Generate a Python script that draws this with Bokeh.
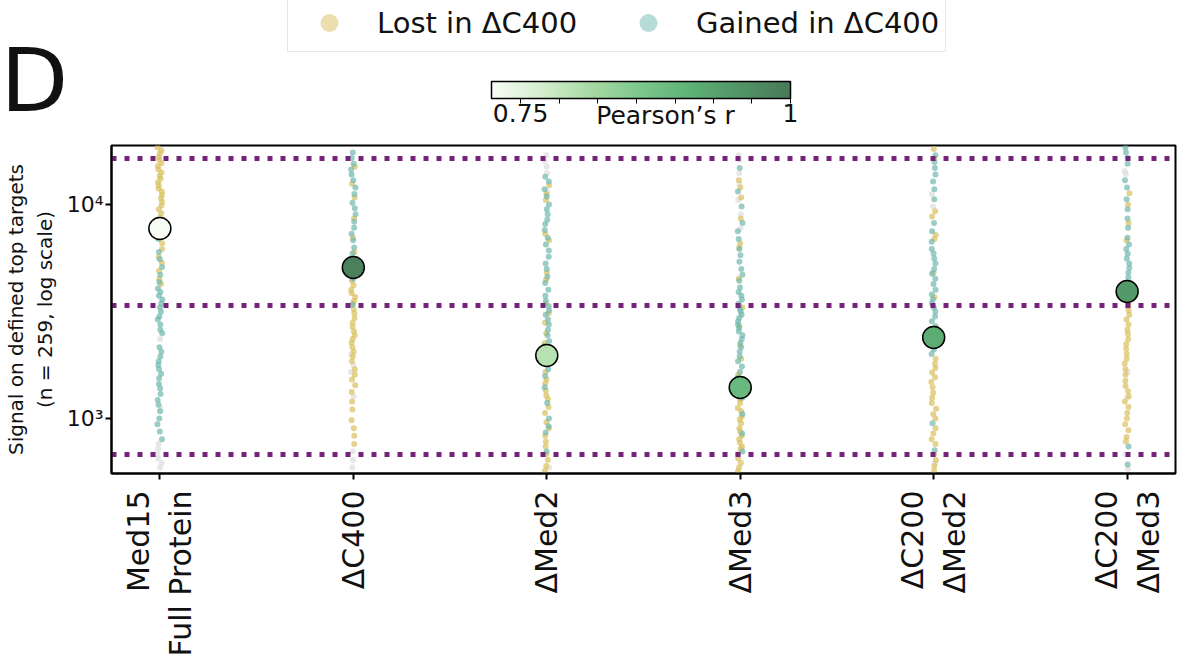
import math
from bokeh.plotting import figure
from bokeh.layouts import column
from bokeh.models import (ColumnDataSource, Range1d, FixedTicker, LinearColorMapper,
                          ColorBar, Legend, LegendItem, Label)
from bokeh.transform import jitter, factor_cmap
from bokeh.embed import file_html
from bokeh.resources import INLINE

# constructs shown on the x axis
categories = ["Med15\nFull Protein", "ΔC400", "ΔMed2", "ΔMed3", "ΔC200\nΔMed2", "ΔC200\nΔMed3"]

# summary signal per construct (big circles) and its Pearson's r vs full protein
mean_signal = [7730, 5080, 1970, 1395, 2390, 3920]
pearson_r = [0.723, 0.99, 0.80, 0.89, 0.915, 0.945]

# dotted reference levels
thresholds = [16400, 3370, 680]

# per-target signal, split by change in ΔC400
lost_c400 = [
    [18500, 17900, 17300, 16700, 16200, 15600, 15100, 14600, 14100, 13600, 13200, 12700,
     12300, 11900, 11500, 11100, 10700, 10300, 9900, 9500, 9100, 8700, 8300, 7100, 6600,
     6200, 5700, 5350, 4900, 4500, 4250],
    [15000, 12500, 10800, 8600, 7000, 6000, 5400, 4400, 4200, 4000, 3850, 3700, 3550, 3450,
     3250, 3100, 2950, 2800, 2680, 2550, 2450, 2350, 2250, 2150, 2050, 1950, 1850, 1700,
     1600, 1520, 1430, 1330, 1200, 1100, 980, 900, 830, 760],
    [12300, 11200, 10500, 7300, 6800, 4800, 4450, 3450, 3100, 2800, 2500, 2250, 2050, 1920,
     1800, 1650, 1520, 1460, 1350, 1280, 1230, 1130, 1060, 960, 900, 830, 780, 740, 680,
     640, 600, 570],
    [13000, 12000, 10800, 8600, 6600, 6300, 4500, 3300, 2700, 2200, 1900, 1600, 1230, 1180,
     1120, 1080, 1020, 990, 950, 900, 870, 830, 800, 770, 740, 720, 680, 650, 620, 590, 565],
    [18200, 16400, 9300, 8800, 7200, 6900, 4800, 3700, 2650, 1900, 1800, 1720, 1640, 1560,
     1480, 1400, 1320, 1250, 1180, 1110, 1050, 1000, 900, 850, 800, 760, 680, 640, 600, 570],
    [11300, 10000, 8200, 6800, 3700, 3500, 3350, 3200, 3050, 2900, 2750, 2600, 2480, 2350,
     2230, 2120, 2000, 1900, 1800, 1700, 1600, 1500, 1420, 1340, 1270, 1200, 1130, 1060,
     1000, 940, 880, 820, 780],
]
gained_c400 = [
    [7400, 6900, 6000, 5550, 5100, 4700, 4350, 4050, 3900, 3750, 3600, 3450, 3300, 3150,
     3000, 2900, 2750, 2600, 2500, 2150, 2050, 1950, 1850, 1780, 1700, 1620, 1540, 1450,
     1380, 1300, 1220, 1160, 1080, 1000, 940, 870, 800],
    [17500, 16500, 15500, 14600, 13800, 13000, 12000, 11200, 10200, 9600, 9000, 8300, 7800,
     7300, 6800, 6300, 5900, 5200, 4800, 4500, 3400],
    [13500, 12800, 11800, 10900, 10000, 9500, 9000, 8500, 8100, 7600, 7000, 6500, 6100, 5700,
     5300, 5000, 4600, 4300, 4000, 3750, 3550, 3350, 3200, 3050, 2900, 2750, 2600, 2450,
     2300, 2180, 1850, 1700, 1580, 1400, 1180, 1000, 920, 860, 700],
    [14800, 11500, 9800, 8200, 7500, 6900, 6200, 5800, 5400, 5000, 4700, 4400, 4100, 3900,
     3750, 3600, 3450, 3350, 3250, 3150, 3050, 2950, 2850, 2750, 2650, 2550, 2450, 2350,
     2250, 2150, 2050, 1950, 1850, 1750, 1650, 1550, 1250, 1050, 850, 700],
    [17000, 15800, 14800, 13800, 12800, 11800, 10600, 8200, 7500, 6700, 6200, 5900, 5600,
     5300, 5000, 4750, 4500, 4250, 4000, 3800, 3600, 3450, 3300, 3150, 3000, 2850, 2700,
     2550, 2300, 2200, 2100, 2000, 950, 710],
    [18500, 17500, 16500, 15500, 13000, 12000, 10600, 9500, 8600, 7800, 7000, 6500, 6200,
     5900, 5600, 5300, 5050, 4800, 4550, 4300, 4100, 740, 610],
]
unchanged = [
    [2350, 1120, 760, 720, 680, 650, 620, 590],
    [2000, 1780, 1650, 1270, 700, 640, 590],
    [17000, 16000, 15000, 14000, 11500, 590],
    [17000, 16200, 14000, 12500, 10500, 9000, 7700],
    [11200, 9800, 2400, 620],
    [14300, 13800, 1650, 1250, 680, 580],
]

YELLOW = "#d9bf5c"
TEAL = "#6fb8ae"
GREY = "#dddddd"
PURPLE = "#74237a"
FONT = "DejaVu Sans"
INK = "#111111"

HEAD_H = 133


def blend(stops, n=256):
    rgb = [tuple(int(c[i:i + 2], 16) for i in (1, 3, 5)) for c in stops]
    out = []
    for k in range(n):
        t = k / (n - 1) * (len(rgb) - 1)
        i = min(int(t), len(rgb) - 2)
        f = t - i
        out.append("#%02x%02x%02x" % tuple(round(a + (b - a) * f) for a, b in zip(rgb[i], rgb[i + 1])))
    return out


greens = blend(["#f7fcf5", "#d5eecf", "#a7daa3", "#7cc78c", "#5eb176", "#519466", "#4a7a59"])
mapper = LinearColorMapper(palette=greens, low=0.723, high=1.0)

# strip points
xs, ys, kinds = [], [], []
for i in range(len(categories)):
    for kind, vals in (("none", unchanged[i]), ("lost", lost_c400[i]), ("gained", gained_c400[i])):
        for v in vals:
            xs.append(i)
            ys.append(v)
            kinds.append(kind)
strips = ColumnDataSource(dict(x=xs, y=ys, kind=kinds))
summary = ColumnDataSource(dict(x=list(range(len(categories))), y=mean_signal, r=pearson_r))

p = figure(width=1184, height=527, y_axis_type="log",
           x_range=Range1d(-0.25, 5.25), y_range=Range1d(553, 18880),
           output_backend="svg", toolbar_location=None,
           min_border_left=111, min_border_right=9, min_border_top=12, min_border_bottom=187)
p.frame_align = False
p.grid.visible = False
p.outline_line_color = "black"
p.outline_line_width = 2

p.scatter(x=jitter("x", width=0.025), y="y", source=strips, size=6, line_color=None,
          fill_alpha=0.7,
          fill_color=factor_cmap("kind", [YELLOW, TEAL, GREY], ["lost", "gained", "none"]))
p.hspan(y=thresholds, line_color=PURPLE, line_width=5, line_dash="5 8")
p.scatter(x="x", y="y", source=summary, size=22, line_color="black", line_width=1.5,
          fill_color={"field": "r", "transform": mapper})

p.xaxis.ticker = FixedTicker(ticks=list(range(len(categories))))
p.xaxis.major_label_overrides = {i: c for i, c in enumerate(categories)}
p.xaxis.major_label_orientation = math.pi / 2
p.xaxis.major_label_text_font_size = "30px"
p.xaxis.major_label_standoff = 11
p.xaxis.minor_tick_line_color = None

p.yaxis.ticker = FixedTicker(ticks=[1000, 10000])
p.yaxis.major_label_overrides = {1000: "10³", 10000: "10⁴"}
p.yaxis.major_label_text_font_size = "22px"
p.yaxis.major_label_standoff = 2
p.yaxis.minor_tick_line_color = None
p.yaxis.axis_label = "Signal on defined top targets\n(n = 259, log scale)"
p.yaxis.axis_label_text_font_size = "20px"
p.yaxis.axis_label_text_font_style = "normal"
p.yaxis.axis_label_standoff = 7

for ax in p.xaxis + p.yaxis:
    ax.axis_line_width = 2
    ax.major_tick_line_width = 2
    ax.major_tick_in = 0
    ax.major_tick_out = 6
    ax.major_label_text_font = FONT
    ax.major_label_text_color = INK
    ax.axis_label_text_font = FONT
    ax.axis_label_text_color = INK

# header strip: panel letter, legend, colour bar (data units = pixels)
head = figure(width=1184, height=HEAD_H, x_range=Range1d(0, 1184),
              y_range=Range1d(HEAD_H, 0), output_backend="svg", toolbar_location=None,
              min_border=0, x_axis_location=None, y_axis_location=None)
head.frame_align = False
head.grid.visible = False
head.outline_line_color = None

nan = float("nan")
r_lost = head.scatter(x=[nan], y=[nan], size=18, fill_color=YELLOW, fill_alpha=0.5, line_color=None)
r_gain = head.scatter(x=[nan], y=[nan], size=18, fill_color=TEAL, fill_alpha=0.5, line_color=None)
legend = Legend(items=[LegendItem(label="Lost in ΔC400", renderers=[r_lost]),
                       LegendItem(label="Gained in ΔC400", renderers=[r_gain])],
                orientation="horizontal", location=(287, HEAD_H - 52), padding=6,
                margin=0, spacing=0,
                glyph_width=70, glyph_height=45, label_standoff=13, label_width=236,
                label_text_font=FONT, label_text_font_size="29px", label_text_color=INK,
                border_line_color="#d0d0d0", border_line_width=1.5,
                background_fill_color="white", background_fill_alpha=1)
head.add_layout(legend)

cbar = ColorBar(color_mapper=mapper, orientation="horizontal", width=299, height=17,
                location=(491, 9), padding=0, margin=0,
                ticker=FixedTicker(ticks=[0.75, 1.0],
                                   minor_ticks=[0.786, 0.821, 0.857, 0.893, 0.929, 0.964]),
                major_label_overrides={0.75: "0.75", 1.0: "1"},
                major_label_text_font=FONT, major_label_text_font_size="25px",
                major_label_text_color=INK,
                major_tick_in=0, major_tick_out=5, major_tick_line_color="black",
                minor_tick_in=0, minor_tick_out=5, minor_tick_line_color="black",
                bar_line_color="black", bar_line_width=1.5, label_standoff=0,
                background_fill_alpha=0, border_line_color=None)
head.add_layout(cbar)

head.add_layout(Label(x=665, y=115, text="Pearson’s r", text_align="center",
                      text_baseline="middle", text_font=FONT, text_font_size="25px",
                      text_color=INK))
head.add_layout(Label(x=0, y=80, text="D", text_align="left", text_baseline="middle",
                      text_font=FONT, text_font_size="88px", text_color=INK))

layout = column(head, p)
open("out.html", "w").write(file_html(layout, INLINE))
